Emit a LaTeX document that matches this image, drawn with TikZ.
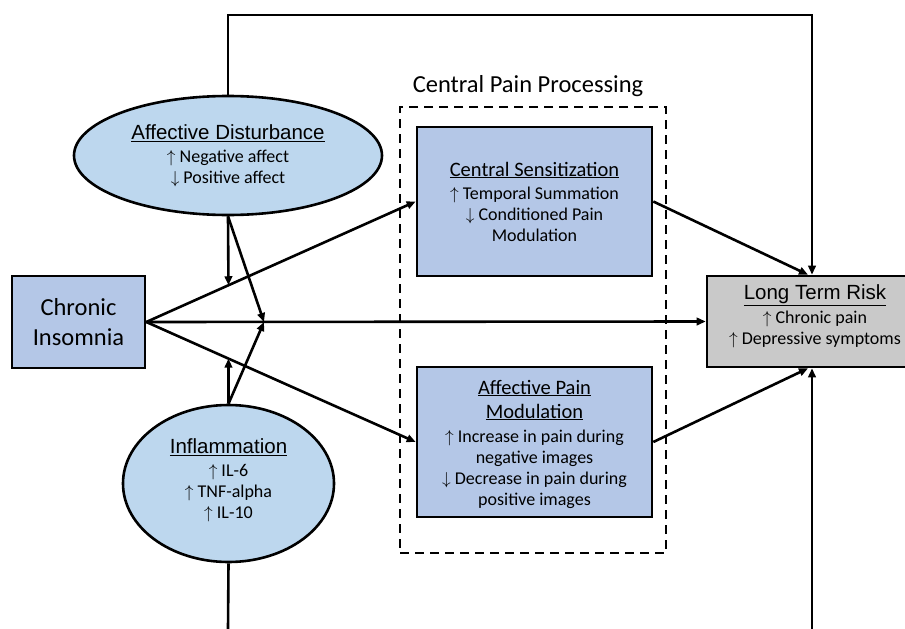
\documentclass[tikz,border=0pt]{standalone}
\usepackage{fontspec}
\setmainfont{Carlito}
\newfontfamily\arialf{Liberation Sans}
\usetikzlibrary{arrows.meta,shapes.geometric,calc}
\newcommand\myup{$\uparrow$}
\newcommand\mydn{$\downarrow$}
\definecolor{boxblue}{HTML}{B4C7E7}
\definecolor{ellblue}{HTML}{BDD7EE}
\definecolor{ltrgray}{HTML}{C9C9C9}
\begin{document}
\begin{tikzpicture}[x=1pt,y=-1pt,
  conn/.style={line width=2.6pt},
  arr/.style={conn,-{Triangle[length=9pt,width=7.5pt]}},
  bluebox/.style={draw,line width=2.6pt,fill=boxblue,rectangle,inner sep=0pt,align=center,
    font=\fontsize{18}{21}\selectfont},
  ellnode/.style={draw,line width=2.6pt,fill=ellblue,ellipse,inner sep=0pt,align=center,
    font=\fontsize{18}{21}\selectfont},
  txt/.style={align=center,inner sep=0pt,font=\fontsize{18}{21}\selectfont}
]
\useasboundingbox (0,0) rectangle (905,629);

% dashed group
\node[draw,line width=2.6pt,dash pattern=on 9pt off 6pt,minimum width=266pt,minimum height=446pt,inner sep=0pt] (cpp) at (533,330) {};
\node[inner sep=0pt] (cppl) at (528,86) {\fontsize{24.5}{28}\selectfont Central Pain Processing};

% nodes
\node[bluebox,minimum width=133pt,minimum height=92pt,font=\fontsize{24.5}{30}\selectfont] (ins) at (78.5,322) {Chronic\\Insomnia};

\node[ellnode,minimum width=308pt,minimum height=119pt] (ad) at (228,155.5)
  {{\arialf\fontsize{20.5}{24}\selectfont\underline{Affective Disturbance}}\\[2pt]
   \myup\ Negative affect\\ \mydn\ Positive affect};

\node[ellnode,minimum width=211pt,minimum height=157pt] (inf) at (228.5,483.5) {};
\node[txt] (inft) at (228.5,480)
  {{\arialf\fontsize{20.5}{24}\selectfont\underline{Inflammation}}\\[2pt]
   \myup\ IL-6\\ \myup\ TNF-alpha\\ \myup\ IL-10};

\node[bluebox,minimum width=235pt,minimum height=149pt] (cs) at (534.5,201.5)
  {{\fontsize{20.5}{24}\selectfont\underline{Central Sensitization}}\\[2pt]
   \myup\ Temporal Summation\\ \mydn\ Conditioned Pain\\ Modulation};

\node[bluebox,minimum width=235pt,minimum height=150pt] (apm) at (534.5,442) {};
\node[txt] (apmt) at (534.5,444)
  {{\fontsize{20.5}{24}\selectfont\underline{Affective Pain}}\\[3pt]
   {\fontsize{20.5}{24}\selectfont\underline{Modulation}}\\[3pt]
   \myup\ Increase in pain during\\ negative images\\
   \mydn\ Decrease in pain during\\ positive images};

\node[draw,line width=2.6pt,fill=ltrgray,inner sep=0pt,minimum width=216pt,minimum height=91pt] (ltr) at (815,321.5) {};
\node[txt] (ltrt) at (815,316)
  {{\arialf\fontsize{20.5}{24}\selectfont\underline{Long Term Risk}}\\[3pt]
   \myup\ Chronic pain\\ \myup\ Depressive symptoms};

% coordinates
\coordinate (topR) at (812,15);
\coordinate (botL) at (228,629);
\coordinate (botR) at (812,629);
\coordinate (J) at (264,322);
\coordinate (m1) at ($(ins.east)!0.305!(cs.west)$);
\coordinate (m2) at ($(ins.east)!0.305!(apm.west)$);

% connectors
\draw[arr] (ad.north) |- (topR) -- (topR |- ltr.north);
\draw[conn] (inf.south) -- (botL);
\draw[arr] (botR) -- (botR |- ltr.south);

\draw[arr] (ins.east) -- (cs.west);
\draw[arr] (ins.east) -- (apm.west);
\draw[arr] (ins.east) -- (ltr.west);

\draw[arr] (ad.south) -- (m1);
\draw[arr] (ad.south) -- (J);
\draw[arr] (inf.north) -- (m2);
\draw[arr] (inf.north) -- (J);

\draw[arr] (cs.east) -- ($(ltr.north)+(-7,0)$);
\draw[arr] (apm.east) -- ($(ltr.south)+(-7,0)$);
\end{tikzpicture}
\end{document}
